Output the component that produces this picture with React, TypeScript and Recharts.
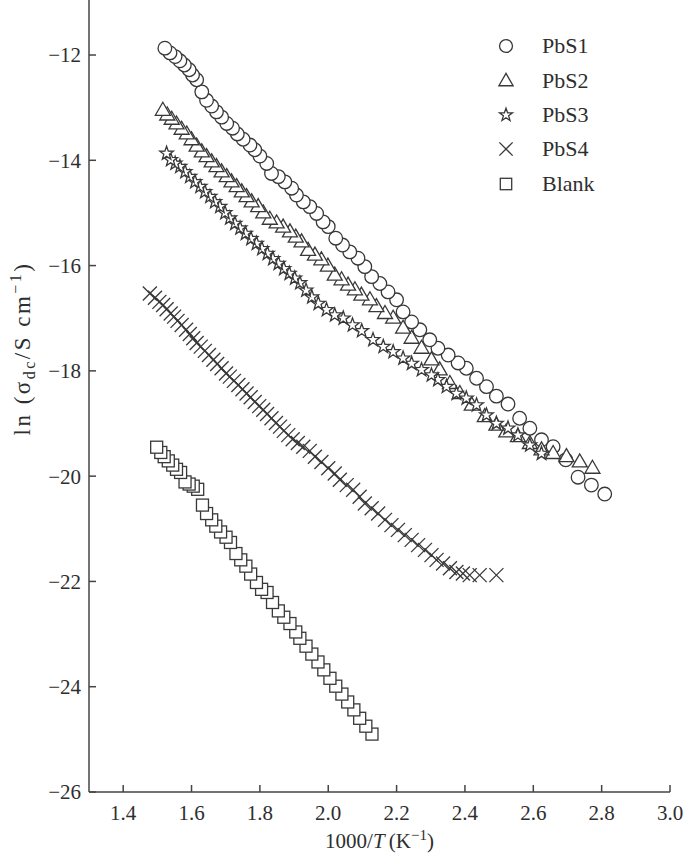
import React from 'react';
import { ScatterChart, Scatter, XAxis, YAxis, Legend, Label } from 'recharts';

const xTicks = [1.4, 1.6, 1.8, 2.0, 2.2, 2.4, 2.6, 2.8, 3.0];
const yTicks = [-26, -24, -22, -20, -18, -16, -14, -12];
const seriesNames = ['PbS1', 'PbS2', 'PbS3', 'PbS4', 'Blank'];

const pbs1: [number, number][] = [
  [1.522, -11.87], [1.537, -11.96], [1.552, -12.03], [1.566, -12.11], [1.579, -12.19], [1.593, -12.28],
  [1.603, -12.38], [1.615, -12.47], [1.630, -12.70], [1.644, -12.86], [1.659, -12.97], [1.673, -13.08],
  [1.688, -13.18], [1.703, -13.30], [1.720, -13.39], [1.734, -13.50], [1.751, -13.60], [1.771, -13.71],
  [1.785, -13.80], [1.800, -13.92], [1.820, -14.06], [1.834, -14.25], [1.854, -14.31], [1.873, -14.41],
  [1.893, -14.53], [1.907, -14.66], [1.927, -14.79], [1.946, -14.88], [1.966, -15.01], [1.985, -15.17],
  [2.000, -15.26], [2.022, -15.48], [2.042, -15.61], [2.063, -15.74], [2.087, -15.86], [2.107, -16.02],
  [2.127, -16.21], [2.151, -16.34], [2.175, -16.50], [2.200, -16.65], [2.219, -16.88], [2.244, -17.07],
  [2.268, -17.22], [2.297, -17.41], [2.321, -17.57], [2.351, -17.70], [2.380, -17.85], [2.404, -17.95],
  [2.434, -18.14], [2.463, -18.30], [2.492, -18.48], [2.526, -18.63], [2.560, -18.90], [2.590, -19.09],
  [2.624, -19.31], [2.658, -19.44], [2.695, -19.69], [2.731, -20.02], [2.770, -20.17], [2.809, -20.34],
];

const pbs2: [number, number][] = [
  [1.516, -13.05], [1.529, -13.14], [1.542, -13.22], [1.556, -13.31], [1.571, -13.41], [1.586, -13.50],
  [1.600, -13.61], [1.615, -13.73], [1.630, -13.84], [1.644, -13.93], [1.659, -14.03], [1.673, -14.12],
  [1.688, -14.22], [1.703, -14.31], [1.717, -14.41], [1.732, -14.50], [1.747, -14.60], [1.761, -14.69],
  [1.776, -14.79], [1.795, -14.88], [1.810, -15.00], [1.829, -15.12], [1.849, -15.19], [1.868, -15.27],
  [1.888, -15.36], [1.905, -15.46], [1.922, -15.55], [1.941, -15.71], [1.961, -15.80], [1.980, -15.89],
  [1.999, -16.01], [2.019, -16.18], [2.039, -16.27], [2.058, -16.37], [2.078, -16.46], [2.097, -16.56],
  [2.122, -16.65], [2.141, -16.78], [2.166, -16.91], [2.190, -17.00], [2.219, -17.19], [2.244, -17.38],
  [2.273, -17.57], [2.302, -17.79], [2.326, -17.98], [2.356, -18.24], [2.385, -18.43], [2.420, -18.65],
  [2.458, -18.87], [2.492, -19.03], [2.521, -19.16], [2.555, -19.25], [2.590, -19.38], [2.624, -19.50],
  [2.658, -19.57], [2.697, -19.63], [2.736, -19.73], [2.773, -19.85],
];

const pbs3: [number, number][] = [
  [1.527, -13.87], [1.539, -13.99], [1.552, -14.06], [1.566, -14.12], [1.581, -14.22], [1.595, -14.31],
  [1.610, -14.41], [1.625, -14.50], [1.639, -14.60], [1.654, -14.69], [1.668, -14.79], [1.683, -14.88],
  [1.698, -15.00], [1.712, -15.10], [1.727, -15.20], [1.742, -15.29], [1.758, -15.39], [1.774, -15.49],
  [1.790, -15.58], [1.806, -15.68], [1.822, -15.77], [1.838, -15.87], [1.854, -15.96], [1.870, -16.06],
  [1.886, -16.15], [1.902, -16.24], [1.917, -16.33], [1.935, -16.47], [1.952, -16.60], [1.971, -16.72],
  [1.995, -16.84], [2.019, -16.94], [2.044, -17.00], [2.071, -17.13], [2.098, -17.24], [2.131, -17.41],
  [2.161, -17.54], [2.190, -17.64], [2.219, -17.76], [2.244, -17.86], [2.273, -17.98], [2.302, -18.08],
  [2.321, -18.17], [2.346, -18.30], [2.375, -18.43], [2.404, -18.52], [2.434, -18.65], [2.463, -18.84],
  [2.492, -19.00], [2.526, -19.09], [2.555, -19.22], [2.590, -19.41], [2.624, -19.57],
];

const pbs4: [number, number][] = [
  [1.478, -16.53], [1.493, -16.61], [1.506, -16.69], [1.517, -16.75], [1.527, -16.83], [1.539, -16.91],
  [1.549, -16.97], [1.559, -17.05], [1.571, -17.13], [1.584, -17.22], [1.595, -17.30], [1.605, -17.38],
  [1.615, -17.47], [1.627, -17.54], [1.639, -17.62], [1.651, -17.70], [1.664, -17.79], [1.675, -17.87],
  [1.688, -17.95], [1.701, -18.05], [1.712, -18.11], [1.724, -18.19], [1.737, -18.27], [1.749, -18.35],
  [1.761, -18.43], [1.773, -18.50], [1.785, -18.59], [1.798, -18.67], [1.810, -18.74], [1.821, -18.82],
  [1.834, -18.90], [1.847, -18.99], [1.859, -19.06], [1.870, -19.14], [1.883, -19.22], [1.896, -19.30],
  [1.911, -19.37], [1.927, -19.44], [1.946, -19.52], [1.961, -19.63], [1.980, -19.73], [2.000, -19.85],
  [2.019, -19.95], [2.034, -20.07], [2.054, -20.17], [2.073, -20.26], [2.092, -20.39], [2.107, -20.52],
  [2.127, -20.61], [2.146, -20.71], [2.166, -20.83], [2.185, -20.93], [2.204, -21.02], [2.224, -21.12],
  [2.244, -21.21], [2.263, -21.31], [2.283, -21.40], [2.302, -21.50], [2.317, -21.59], [2.336, -21.66],
  [2.356, -21.75], [2.375, -21.82], [2.394, -21.85], [2.414, -21.88], [2.443, -21.88], [2.492, -21.88],
];

const blank: [number, number][] = [
  [1.498, -19.45], [1.510, -19.55], [1.520, -19.63], [1.532, -19.71], [1.545, -19.79], [1.556, -19.87],
  [1.568, -19.93], [1.581, -20.11], [1.593, -20.15], [1.605, -20.19], [1.618, -20.25], [1.632, -20.55],
  [1.644, -20.71], [1.659, -20.83], [1.671, -20.95], [1.685, -21.06], [1.701, -21.16], [1.714, -21.26],
  [1.730, -21.47], [1.744, -21.59], [1.759, -21.71], [1.773, -21.86], [1.790, -22.02], [1.805, -22.15],
  [1.821, -22.21], [1.837, -22.40], [1.854, -22.56], [1.870, -22.68], [1.888, -22.80], [1.905, -22.96],
  [1.917, -23.08], [1.935, -23.23], [1.952, -23.38], [1.970, -23.53], [1.987, -23.68], [2.005, -23.84],
  [2.022, -23.99], [2.040, -24.14], [2.057, -24.29], [2.075, -24.44], [2.092, -24.60], [2.110, -24.75],
  [2.128, -24.90],
];

const FONT = '"Liberation Serif", "Times New Roman", serif';
const INK = '#2e2e2e';
const MARK = '#383838';
const SW = 1.3;

const toPoints = (arr: [number, number][]) => arr.map(([x, y]) => ({ x, y })).reverse();

function starPts(cx: number, cy: number, R: number, r: number) {
  const pts: string[] = [];
  for (let i = 0; i < 10; i++) {
    const a = -Math.PI / 2 + (i * Math.PI) / 5;
    const rad = i % 2 === 0 ? R : r;
    pts.push(`${cx + rad * Math.cos(a)},${cy + rad * Math.sin(a)}`);
  }
  return pts.join(' ');
}

const drawMark = (kind: string, cx: number, cy: number, s = 1) => {
  switch (kind) {
    case 'PbS1':
      return <circle cx={cx} cy={cy} r={6.8 * s} fill="#fff" stroke={MARK} strokeWidth={SW} />;
    case 'PbS2':
      return (
        <polygon
          points={`${cx},${cy - 8 * s} ${cx - 7.5 * s},${cy + 5 * s} ${cx + 7.5 * s},${cy + 5 * s}`}
          fill="#fff" stroke={MARK} strokeWidth={SW} strokeLinejoin="miter"
        />
      );
    case 'PbS3':
      return <polygon points={starPts(cx, cy, 7.2 * s, 2.9 * s)} fill="#fff" stroke={MARK} strokeWidth={SW} />;
    case 'PbS4':
      return (
        <g stroke={MARK} strokeWidth={SW}>
          <line x1={cx - 7 * s} y1={cy - 7 * s} x2={cx + 7 * s} y2={cy + 7 * s} />
          <line x1={cx - 7 * s} y1={cy + 7 * s} x2={cx + 7 * s} y2={cy - 7 * s} />
        </g>
      );
    default:
      return <rect x={cx - 6 * s} y={cy - 6 * s} width={12 * s} height={12 * s} fill="#fff" stroke={MARK} strokeWidth={SW} />;
  }
};

const makeShape = (kind: string) => (props: any) => {
  const { cx, cy } = props;
  if (cx == null || cy == null) return <g />;
  return drawMark(kind, cx, cy);
};

const renderLegend = () => (
  <div style={{ fontFamily: FONT, fontSize: 22, color: INK }}>
    {seriesNames.map((n) => (
      <div key={n} style={{ display: 'flex', alignItems: 'center', height: 34.4 }}>
        <svg width={24} height={24} style={{ display: 'block' }}>
          {drawMark(n, 12, 12, 0.95)}
        </svg>
        <span style={{ marginLeft: 24, lineHeight: '24px' }}>{n}</span>
      </div>
    ))}
  </div>
);

const fmt = (v: number) => v.toFixed(1);
const fmtY = (v: number) => String(v).replace('-', '\u2212');

const XTitle = (props: any) => {
  const vb = props.viewBox || { x: 89, y: 792, width: 581, height: 64 };
  return (
    <text x={vb.x + vb.width / 2} y={vb.y + 56} textAnchor="middle" fontFamily={FONT} fontSize={21} fill={INK}>
      1000/<tspan fontStyle="italic">T</tspan>{'\u2009'}(K<tspan dy={-8} fontSize={15}>{'\u2212'}1</tspan>
      <tspan dy={8}>)</tspan>
    </text>
  );
};

const YTitle = (props: any) => {
  const vb = props.viewBox || { x: 0, y: 0, width: 89, height: 792 };
  const cx = vb.x + 30;
  const cy = vb.y + vb.height * 0.44;
  return (
    <text
      x={cx} y={cy} textAnchor="middle" fontFamily={FONT} fontSize={23} fill={INK} letterSpacing={2.5}
      transform={`rotate(-90 ${cx} ${cy})`}
    >
      ln (σ<tspan dy={5} fontSize={16}>dc</tspan>
      <tspan dy={-5}>/S cm</tspan>
      <tspan dy={-9} fontSize={16}>{'\u2212'}1</tspan>
      <tspan dy={9}>)</tspan>
    </text>
  );
};

const series: { name: string; data: [number, number][] }[] = [
  { name: 'PbS1', data: pbs1 },
  { name: 'PbS2', data: pbs2 },
  { name: 'PbS3', data: pbs3 },
  { name: 'PbS4', data: pbs4 },
  { name: 'Blank', data: blank },
];

export default function App() {
  return (
    <div style={{ position: 'absolute', left: 0, top: 0, background: '#fff' }}>
      <ScatterChart width={685} height={856} margin={{ top: 0, right: 15, bottom: 0, left: 0 }}>
        <XAxis
          type="number" dataKey="x" domain={[1.3, 3.0]} ticks={xTicks} allowDataOverflow
          height={64} stroke="#444" strokeWidth={1.5}
          tickSize={-7} tickMargin={20} tickFormatter={fmt}
          tick={{ fontFamily: FONT, fontSize: 21, fill: INK }}
        >
          <Label content={<XTitle />} />
        </XAxis>
        <YAxis
          type="number" dataKey="y" domain={[-26, -10.955]} ticks={yTicks} allowDataOverflow
          width={89} stroke="#444" strokeWidth={1.5}
          tickSize={-7} tickMargin={15} tickFormatter={fmtY}
          tick={{ fontFamily: FONT, fontSize: 21, fill: INK }}
        >
          <Label content={<YTitle />} />
        </YAxis>
        <Legend
          layout="vertical" align="center" verticalAlign="middle"
          content={renderLegend}
          wrapperStyle={{ position: 'absolute', left: 494, top: 29, width: 160 }}
        />
        {series.map((s) => (
          <Scatter
            key={s.name} name={s.name} data={toPoints(s.data)}
            shape={makeShape(s.name)} isAnimationActive={false}
          />
        ))}
      </ScatterChart>
    </div>
  );
}
